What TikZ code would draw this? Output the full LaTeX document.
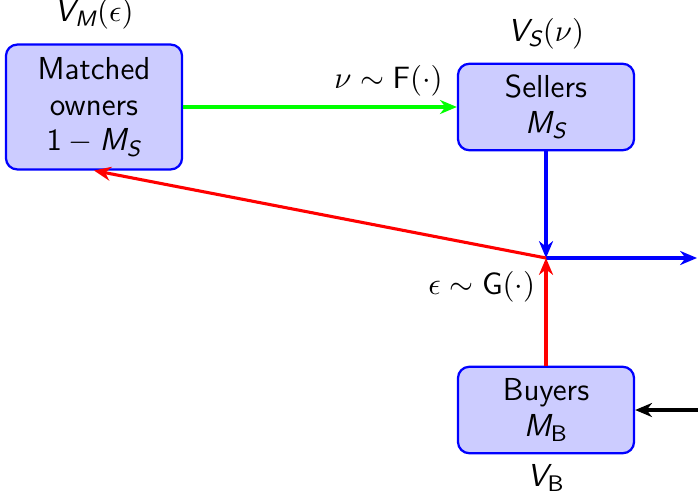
\documentclass[tikz,border=0pt]{standalone}
\usepackage{amsmath}
\usetikzlibrary{positioning, arrows.meta}
\newcommand{\msl}[1]{\text{\sffamily\slshape #1}}

\begin{document}
\begin{tikzpicture}[x=0.0125cm, y=-0.0125cm, font=\fontsize{11.3}{12.7}\selectfont\sffamily,
    box/.style={draw=blue, thick, fill=blue!20, rounded corners=4pt, align=center, minimum width=2.2cm, minimum height=1.08cm},
    flow/.style={-{Stealth[length=6pt, width=5pt]}, line width=1.1pt}]
    \useasboundingbox (0,0) rectangle (698,494);
    %agents
    \node[box, minimum height=1.56cm] (matched) at (94,107) {Matched\\owners\\$\mathsf{1}-\msl{M}_{\msl{S}}$};
    \node[box] (sellers) at (546,107) {Sellers\\$\msl{M}_{\msl{S}}$};
    \node[box] (buyers) at (546,410) {Buyers\\$\msl{M}_{\mathsf{B}}$};
    \node[above=0.05cm of matched] (vm) {$\msl{V}_{\msl{M}}(\epsilon)$};
    \node[above=0.05cm of sellers] (vs) {$\msl{V}_{\msl{S}}(\nu)$};
    \node[below=0pt of buyers] (vb) {$\msl{V}_{\mathsf{B}}$};
    %flows
    \coordinate (junc) at (546,258);
    \coordinate (exit) at (697,258);
    \coordinate (entry) at (698,410);
    \draw[flow, green] (matched) -- (sellers) node[pos=0.75, above, text=black] {$\nu\sim\mathsf{F}(\cdot)$};
    \draw[flow, blue] (sellers) -- (junc);
    \draw[flow, blue] (junc) -- (exit);
    \draw[flow, red] (buyers) -- (junc) node[pos=0.73, left, text=black] {$\epsilon\sim\mathsf{G}(\cdot)$};
    \draw[flow, red] (junc) -- (matched.south);
    \draw[flow] (entry) -- (buyers);
\end{tikzpicture}
\end{document}
